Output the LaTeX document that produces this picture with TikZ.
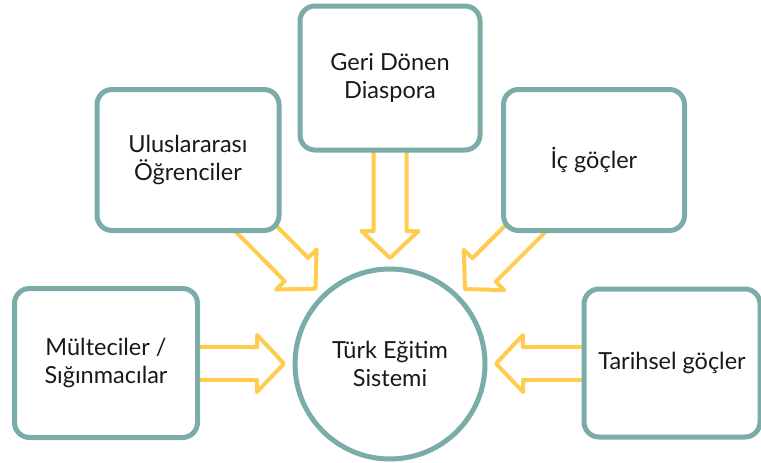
\documentclass[tikz,border=0pt]{standalone}
\usepackage{fontspec}
\setmainfont{Lato}
\usetikzlibrary{calc,backgrounds}
\definecolor{kutucizgi}{HTML}{7AADA8}
\definecolor{okrengi}{HTML}{FFCC4D}

\begin{document}
\begin{tikzpicture}[x=1pt,y=-1pt,
kutu/.style={draw=kutucizgi,line width=5pt,fill=white,rounded corners=15pt,
  minimum width=180pt,minimum height=144pt,align=center,
  font=\fontsize{23.5}{28}\selectfont,text=black!90},
merkez/.style={kutu,circle,minimum size=190pt},
ok/.style={draw=okrengi,line width=4pt,line join=round}]
\useasboundingbox (0,0) rectangle (761,463);
\node[merkez] (sistem) at (390,364) {Türk Eğitim\\Sistemi};
\node[kutu] (diaspora) at (390,78) {Geri Dönen\\Diaspora};
\node[kutu,minimum width=182pt,minimum height=141pt] (ogrenci) at (188,160) {Uluslararası\\Öğrenciler};
\node[kutu,minimum width=181pt,minimum height=141pt] (ic) at (594,160) {İç göçler};
\node[kutu,minimum width=183pt,minimum height=149pt] (multeci) at (106,363) {Mülteciler /\\Sığınmacılar};
\node[kutu,minimum width=176pt,minimum height=148pt] (tarih) at (672,363) {Tarihsel göçler};
\begin{scope}[on background layer]
\foreach \k in {diaspora,ogrenci,ic,multeci,tarih}{
  \coordinate (uc) at ($(sistem)!106pt!(\k)$);
  \coordinate (boyun) at ($(uc)!27pt!(\k)$);
  \draw[ok] ($(\k)!16.5pt!90:(uc)$) -- ($(boyun)!16.5pt!90:(uc)$) -- ($(boyun)!28.5pt!90:(uc)$) -- (uc)
    -- ($(boyun)!28.5pt!-90:(uc)$) -- ($(boyun)!16.5pt!-90:(uc)$) -- ($(\k)!16.5pt!-90:(uc)$);
}
\end{scope}
\end{tikzpicture}
\end{document}
